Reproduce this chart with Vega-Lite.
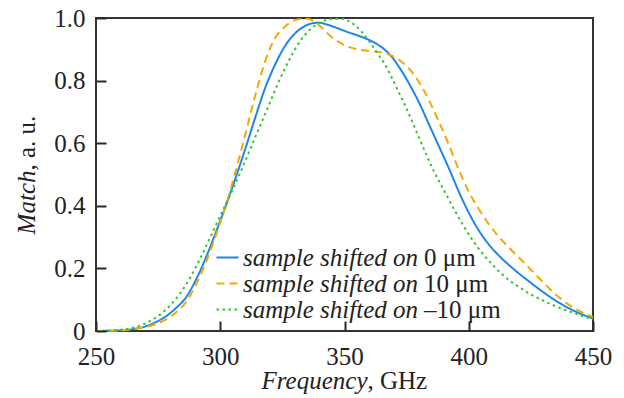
{
  "$schema": "https://vega.github.io/schema/vega-lite/v6.json",
  "width": 497,
  "height": 313,
  "autosize": "none",
  "padding": {"left": 96, "top": 18, "right": 31, "bottom": 67},
  "background": "white",
  "datasets": {
    "labels": [
      {"s": "0", "n": "0 μm"},
      {"s": "10", "n": "10 μm"},
      {"s": "-10", "n": "–10 μm"}
    ],
    "curves": [
      {"f": 250, "m": 0, "s": "0"}, {"f": 256, "m": 0.001, "s": "0"}, {"f": 260, "m": 0.002, "s": "0"}, {"f": 265, "m": 0.006, "s": "0"}, {"f": 270, "m": 0.015, "s": "0"}, {"f": 274, "m": 0.028, "s": "0"}, {"f": 278, "m": 0.046, "s": "0"}, {"f": 282, "m": 0.072, "s": "0"}, {"f": 286, "m": 0.105, "s": "0"}, {"f": 290, "m": 0.16, "s": "0"}, {"f": 294, "m": 0.23, "s": "0"}, {"f": 298, "m": 0.31, "s": "0"}, {"f": 302, "m": 0.395, "s": "0"}, {"f": 306, "m": 0.485, "s": "0"}, {"f": 310, "m": 0.58, "s": "0"}, {"f": 314, "m": 0.68, "s": "0"}, {"f": 318, "m": 0.775, "s": "0"}, {"f": 322, "m": 0.85, "s": "0"}, {"f": 326, "m": 0.91, "s": "0"}, {"f": 330, "m": 0.95, "s": "0"}, {"f": 334, "m": 0.974, "s": "0"}, {"f": 337, "m": 0.983, "s": "0"}, {"f": 340, "m": 0.985, "s": "0"}, {"f": 343, "m": 0.979, "s": "0"}, {"f": 347, "m": 0.968, "s": "0"}, {"f": 351, "m": 0.956, "s": "0"}, {"f": 355, "m": 0.945, "s": "0"}, {"f": 359, "m": 0.933, "s": "0"}, {"f": 363, "m": 0.917, "s": "0"}, {"f": 366, "m": 0.9, "s": "0"}, {"f": 369, "m": 0.876, "s": "0"}, {"f": 372, "m": 0.843, "s": "0"}, {"f": 376, "m": 0.79, "s": "0"}, {"f": 380, "m": 0.73, "s": "0"}, {"f": 384, "m": 0.66, "s": "0"}, {"f": 388, "m": 0.59, "s": "0"}, {"f": 392, "m": 0.52, "s": "0"}, {"f": 396, "m": 0.445, "s": "0"}, {"f": 400, "m": 0.378, "s": "0"}, {"f": 404, "m": 0.322, "s": "0"}, {"f": 408, "m": 0.277, "s": "0"}, {"f": 412, "m": 0.242, "s": "0"}, {"f": 416, "m": 0.212, "s": "0"}, {"f": 420, "m": 0.185, "s": "0"}, {"f": 425, "m": 0.154, "s": "0"}, {"f": 430, "m": 0.124, "s": "0"}, {"f": 435, "m": 0.097, "s": "0"}, {"f": 440, "m": 0.074, "s": "0"}, {"f": 445, "m": 0.055, "s": "0"}, {"f": 450, "m": 0.04, "s": "0"},
      {"f": 250, "m": 0, "s": "10"}, {"f": 258, "m": 0.001, "s": "10"}, {"f": 262, "m": 0.003, "s": "10"}, {"f": 266, "m": 0.007, "s": "10"}, {"f": 270, "m": 0.013, "s": "10"}, {"f": 274, "m": 0.022, "s": "10"}, {"f": 278, "m": 0.036, "s": "10"}, {"f": 282, "m": 0.058, "s": "10"}, {"f": 286, "m": 0.09, "s": "10"}, {"f": 290, "m": 0.145, "s": "10"}, {"f": 294, "m": 0.215, "s": "10"}, {"f": 298, "m": 0.3, "s": "10"}, {"f": 302, "m": 0.395, "s": "10"}, {"f": 306, "m": 0.505, "s": "10"}, {"f": 310, "m": 0.625, "s": "10"}, {"f": 314, "m": 0.75, "s": "10"}, {"f": 318, "m": 0.86, "s": "10"}, {"f": 322, "m": 0.935, "s": "10"}, {"f": 326, "m": 0.972, "s": "10"}, {"f": 329, "m": 0.99, "s": "10"}, {"f": 332, "m": 0.997, "s": "10"}, {"f": 335, "m": 0.998, "s": "10"}, {"f": 338, "m": 0.988, "s": "10"}, {"f": 341, "m": 0.968, "s": "10"}, {"f": 344, "m": 0.945, "s": "10"}, {"f": 348, "m": 0.922, "s": "10"}, {"f": 352, "m": 0.907, "s": "10"}, {"f": 356, "m": 0.899, "s": "10"}, {"f": 360, "m": 0.895, "s": "10"}, {"f": 364, "m": 0.891, "s": "10"}, {"f": 368, "m": 0.883, "s": "10"}, {"f": 372, "m": 0.866, "s": "10"}, {"f": 376, "m": 0.838, "s": "10"}, {"f": 380, "m": 0.795, "s": "10"}, {"f": 384, "m": 0.737, "s": "10"}, {"f": 388, "m": 0.668, "s": "10"}, {"f": 392, "m": 0.595, "s": "10"}, {"f": 396, "m": 0.515, "s": "10"}, {"f": 400, "m": 0.445, "s": "10"}, {"f": 404, "m": 0.39, "s": "10"}, {"f": 408, "m": 0.342, "s": "10"}, {"f": 412, "m": 0.302, "s": "10"}, {"f": 416, "m": 0.268, "s": "10"}, {"f": 420, "m": 0.236, "s": "10"}, {"f": 425, "m": 0.196, "s": "10"}, {"f": 430, "m": 0.155, "s": "10"}, {"f": 435, "m": 0.117, "s": "10"}, {"f": 440, "m": 0.085, "s": "10"}, {"f": 445, "m": 0.062, "s": "10"}, {"f": 450, "m": 0.045, "s": "10"},
      {"f": 250, "m": 0, "s": "-10"}, {"f": 256, "m": 0.001, "s": "-10"}, {"f": 260, "m": 0.004, "s": "-10"}, {"f": 264, "m": 0.009, "s": "-10"}, {"f": 268, "m": 0.018, "s": "-10"}, {"f": 272, "m": 0.033, "s": "-10"}, {"f": 276, "m": 0.054, "s": "-10"}, {"f": 280, "m": 0.083, "s": "-10"}, {"f": 284, "m": 0.122, "s": "-10"}, {"f": 288, "m": 0.172, "s": "-10"}, {"f": 292, "m": 0.233, "s": "-10"}, {"f": 296, "m": 0.3, "s": "-10"}, {"f": 300, "m": 0.368, "s": "-10"}, {"f": 304, "m": 0.435, "s": "-10"}, {"f": 308, "m": 0.505, "s": "-10"}, {"f": 312, "m": 0.58, "s": "-10"}, {"f": 316, "m": 0.655, "s": "-10"}, {"f": 320, "m": 0.73, "s": "-10"}, {"f": 324, "m": 0.805, "s": "-10"}, {"f": 328, "m": 0.87, "s": "-10"}, {"f": 332, "m": 0.925, "s": "-10"}, {"f": 336, "m": 0.962, "s": "-10"}, {"f": 340, "m": 0.985, "s": "-10"}, {"f": 344, "m": 0.996, "s": "-10"}, {"f": 348, "m": 0.998, "s": "-10"}, {"f": 351, "m": 0.993, "s": "-10"}, {"f": 354, "m": 0.978, "s": "-10"}, {"f": 357, "m": 0.955, "s": "-10"}, {"f": 360, "m": 0.925, "s": "-10"}, {"f": 363, "m": 0.89, "s": "-10"}, {"f": 366, "m": 0.855, "s": "-10"}, {"f": 369, "m": 0.81, "s": "-10"}, {"f": 372, "m": 0.76, "s": "-10"}, {"f": 375, "m": 0.71, "s": "-10"}, {"f": 378, "m": 0.655, "s": "-10"}, {"f": 382, "m": 0.58, "s": "-10"}, {"f": 386, "m": 0.51, "s": "-10"}, {"f": 390, "m": 0.45, "s": "-10"}, {"f": 394, "m": 0.39, "s": "-10"}, {"f": 398, "m": 0.335, "s": "-10"}, {"f": 402, "m": 0.285, "s": "-10"}, {"f": 406, "m": 0.243, "s": "-10"}, {"f": 410, "m": 0.208, "s": "-10"}, {"f": 415, "m": 0.17, "s": "-10"}, {"f": 420, "m": 0.142, "s": "-10"}, {"f": 425, "m": 0.117, "s": "-10"}, {"f": 430, "m": 0.097, "s": "-10"}, {"f": 435, "m": 0.079, "s": "-10"}, {"f": 440, "m": 0.064, "s": "-10"}, {"f": 445, "m": 0.05, "s": "-10"}, {"f": 450, "m": 0.038, "s": "-10"}
    ]
  },
  "data": {"name": "curves"},
  "transform": [
    {"lookup": "s", "from": {"data": {"name": "labels"}, "key": "s", "fields": ["n"]}}
  ],
  "layer": [
    {
      "mark": {"type": "line", "interpolate": "monotone", "strokeWidth": 2},
      "encoding": {
        "x": {
          "field": "f", "type": "quantitative",
          "scale": {"domain": [250, 450], "nice": false, "zero": false},
          "axis": {
            "values": [250, 300, 350, 400, 450],
            "title": "Frequency", "titleFontStyle": "italic",
            "titleX": 271, "titleY": 67, "titleAlign": "right", "titleBaseline": "alphabetic",
            "offset": -10, "ticks": true, "tickSize": 10, "tickColor": "#2a2a2a", "tickWidth": 2, "tickOpacity": 1,
            "labelPadding": 13, "labelFlush": false,
            "domain": false, "grid": false, "zindex": 1
          }
        },
        "y": {
          "field": "m", "type": "quantitative",
          "scale": {"domain": [0, 1], "nice": false},
          "axis": {
            "values": [0, 0.2, 0.4, 0.6, 0.8, 1],
            "labelExpr": "datum.value == 0 ? '0' : format(datum.value, '.1f')",
            "title": "Match", "titleFontStyle": "italic",
            "titleX": -72, "titleY": 152, "titleAlign": "right", "titleBaseline": "alphabetic", "titleAngle": 270,
            "offset": -10, "ticks": true, "tickSize": 10, "tickColor": "#2a2a2a", "tickWidth": 2, "tickOpacity": 1,
            "labelPadding": 11, "labelFlush": false,
            "domain": false, "grid": false, "zindex": 1
          }
        },
        "color": {
          "field": "s", "type": "nominal",
          "scale": {"domain": ["0", "10", "-10"], "range": ["#1c87e5", "#f5a800", "#36c236"]},
          "legend": {
            "title": null, "orient": "none", "legendX": 119, "legendY": 227,
            "labelExpr": "'sample shifted on'",
            "labelFont": "Liberation Serif", "labelFontSize": 25, "labelFontStyle": "italic", "labelColor": "#222",
            "symbolType": "stroke", "symbolSize": 484, "symbolStrokeWidth": 2,
            "labelOffset": 3, "rowPadding": 0, "padding": 0, "labelLimit": 0
          }
        },
        "strokeDash": {
          "field": "s", "type": "nominal",
          "scale": {"domain": ["0", "10", "-10"], "range": [[1, 0], [8, 5], [2.5, 3.5]]},
          "legend": {
            "title": null, "orient": "none", "legendX": 119, "legendY": 227,
            "labelExpr": "'sample shifted on'",
            "labelFont": "Liberation Serif", "labelFontSize": 25, "labelFontStyle": "italic", "labelColor": "#222",
            "symbolType": "stroke", "symbolSize": 484, "symbolStrokeWidth": 2,
            "labelOffset": 3, "rowPadding": 0, "padding": 0, "labelLimit": 0
          }
        },
        "opacity": {
          "field": "n", "type": "nominal",
          "scale": {"domain": ["0 μm", "10 μm", "–10 μm"], "range": [1, 1, 1]},
          "legend": {
            "title": null, "orient": "none", "legendX": 303, "legendY": 227,
            "labelExpr": "(datum.label == '0 μm' ? '' : datum.label == '10 μm' ? '\u00a0' : '\u00a0\u200a') + datum.label",
            "labelFont": "Liberation Serif", "labelFontSize": 25, "labelFontStyle": "normal", "labelColor": "#222",
            "symbolType": "circle", "symbolSize": 0, "symbolStrokeWidth": 0, "symbolOpacity": 0,
            "symbolFillColor": "transparent", "symbolStrokeColor": "transparent",
            "labelOffset": 0, "rowPadding": 0, "padding": 0, "labelLimit": 0
          }
        }
      }
    },
    {
      "mark": {"type": "point", "opacity": 0},
      "encoding": {
        "x": {
          "field": "f", "type": "quantitative",
          "axis": {
            "orient": "bottom", "title": ", GHz", "titleFontStyle": "normal",
            "titleX": 271, "titleY": 57, "titleAlign": "left", "titleBaseline": "alphabetic",
            "ticks": false, "labels": false, "domain": false, "grid": false
          }
        },
        "y": {
          "field": "m", "type": "quantitative",
          "axis": {
            "orient": "left", "title": ", a. u.", "titleFontStyle": "normal",
            "titleX": -62, "titleY": 152, "titleAlign": "left", "titleBaseline": "alphabetic", "titleAngle": 270,
            "ticks": false, "labels": false, "domain": false, "grid": false
          }
        }
      }
    }
  ],
  "resolve": {"axis": {"x": "independent", "y": "independent"}},
  "config": {
    "font": "Liberation Serif",
    "view": {"stroke": "#333", "strokeWidth": 2},
    "axis": {
      "labelFont": "Liberation Serif", "labelFontSize": 25, "labelColor": "#222",
      "titleFont": "Liberation Serif", "titleFontSize": 25, "titleColor": "#222", "titleFontWeight": "normal",
      "labelOverlap": false
    }
  }
}
